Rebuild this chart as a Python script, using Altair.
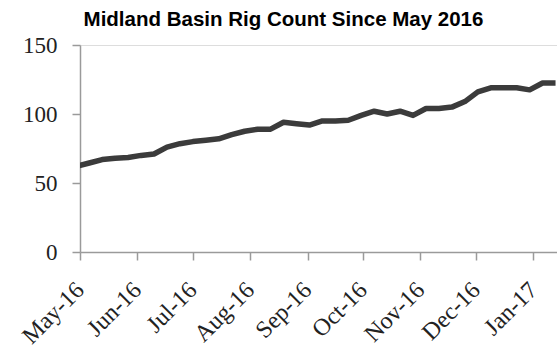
import altair as alt
import pandas as pd

# Weekly Midland Basin rig counts (Friday reports)
week_ending = [
    "2016-04-29", "2016-05-06", "2016-05-13", "2016-05-20", "2016-05-27",
    "2016-06-03", "2016-06-10", "2016-06-17", "2016-06-24", "2016-07-01",
    "2016-07-08", "2016-07-15", "2016-07-22", "2016-07-29", "2016-08-05",
    "2016-08-12", "2016-08-19", "2016-08-26", "2016-09-02", "2016-09-09",
    "2016-09-16", "2016-09-23", "2016-09-30", "2016-10-07", "2016-10-14",
    "2016-10-21", "2016-10-28", "2016-11-04", "2016-11-11", "2016-11-18",
    "2016-11-25", "2016-12-02", "2016-12-09", "2016-12-16", "2016-12-23",
    "2016-12-30", "2017-01-06", "2017-01-13",
]
rig_count = [
    62, 64.5, 67, 68, 68.5,
    70, 71, 76, 78.5, 80,
    81, 82, 85, 87.5, 89,
    89, 94, 93, 92, 95,
    95, 95.5, 99, 102, 100,
    102, 99, 104, 104, 105,
    109, 116, 119, 119, 119,
    117.5, 122.5, 122.5,
]
y_ticks = [0, 50, 100, 150]
# month starts shown on the date axis (year, month)
month_ticks = [(2016, 5), (2016, 6), (2016, 7), (2016, 8), (2016, 9),
               (2016, 10), (2016, 11), (2016, 12), (2017, 1)]

df = pd.DataFrame({"week": week_ending, "rigs": rig_count})

axis_gray = "#9a9a9a"
label_font = "Liberation Serif"

chart = (
    alt.Chart(df)
    .mark_line(color="#3b3b3b", strokeWidth=5.5, strokeJoin="round", clip=True)
    .encode(
        x=alt.X(
            "week:T",
            scale=alt.Scale(
                type="utc",
                domain=[
                    alt.DateTime(year=2016, month=5, date=1, utc=True),
                    alt.DateTime(year=2017, month=1, date=13, hours=19, utc=True),
                ],
            ),
            axis=alt.Axis(
                title=None,
                format="%b-%y",
                values=[alt.DateTime(year=y, month=m, date=1, utc=True)
                        for y, m in month_ticks],
                labelAngle=-45,
                labelAlign="right",
                labelBaseline="middle",
                labelFont=label_font,
                labelFontSize=24,
                labelColor="#222222",
                labelPadding=26,
                labelOverlap=False,
                labelFlush=False,
                tickSize=8,
                tickColor=axis_gray,
                tickWidth=1.5,
                domainColor=axis_gray,
                domainWidth=1.5,
                grid=False,
            ),
        ),
        y=alt.Y(
            "rigs:Q",
            scale=alt.Scale(domain=[0, 150], nice=False, zero=True),
            axis=alt.Axis(
                title=None,
                values=y_ticks,
                labelFont=label_font,
                labelFontSize=23,
                labelColor="#222222",
                labelPadding=15,
                tickSize=8,
                tickColor=axis_gray,
                tickWidth=1.5,
                domainColor=axis_gray,
                domainWidth=1.5,
                grid=False,
            ),
        ),
    )
    .properties(
        width=477,
        height=207,
        padding={"left": 80, "top": 45, "right": 0, "bottom": 97},
        autosize=alt.AutoSizeParams(type="none"),
        title=alt.TitleParams(
            "Midland Basin Rig Count Since May 2016",
            font="Liberation Sans",
            fontSize=20.5,
            fontWeight="bold",
            color="#000000",
            anchor="middle",
            frame="group",
            dx=-35,
            offset=4,
        ),
    )
    .configure_view(strokeWidth=0)
    .configure(background="white")
)

chart.save("out.html", embed_options={"renderer": "svg", "actions": False})
